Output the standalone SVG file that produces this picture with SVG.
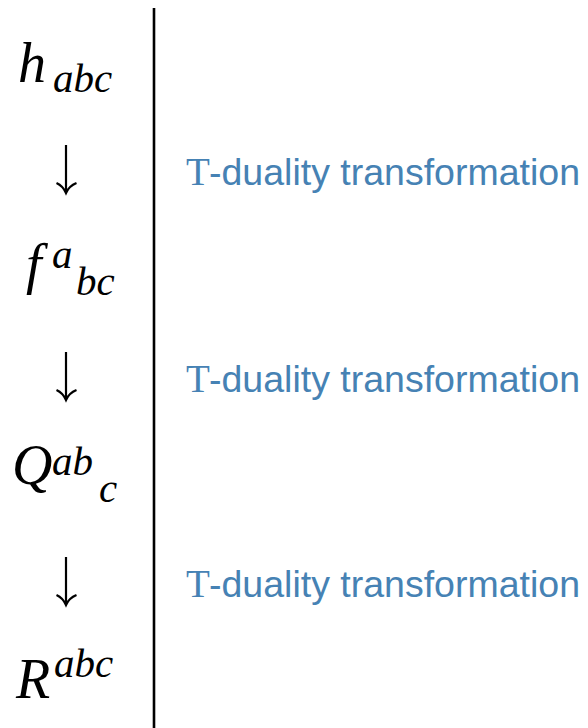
<svg xmlns="http://www.w3.org/2000/svg" width="588" height="728" viewBox="0 0 588 728">
<style>
.m{font-family:"Liberation Serif","Times New Roman",serif;font-style:italic;fill:#000}
.big{font-size:56px}
.sm{font-size:41px}
.lbl{font-size:37px;fill:#4682B4}
.ser{font-family:"Liberation Serif",serif;font-size:39px}
.san{font-family:"Liberation Sans",Arial,sans-serif}
.arr{fill:none;stroke:#000;stroke-width:2.2}
</style>
<rect width="588" height="728" fill="#fff"/>
<line x1="154" y1="8" x2="154" y2="728" stroke="#000" stroke-width="2.6"/>
<g id="node-h">
<text class="m big" x="18" y="82">h</text>
<text class="m sm" x="53" y="92">abc</text>
</g>
<g id="node-f">
<text class="m big" x="26" y="283">f</text>
<text class="m sm" x="52" y="268">a</text>
<text class="m sm" x="76" y="295">bc</text>
</g>
<g id="node-Q">
<text class="m big" x="12" y="484">Q</text>
<text class="m sm" x="52" y="475">ab</text>
<text class="m sm" x="99" y="502">c</text>
</g>
<g id="node-R">
<text class="m big" x="16" y="698">R</text>
<text class="m sm" x="54" y="677">abc</text>
</g>
<g id="connectors">
<path class="arr" d="M66,145 V192"/>
<path class="arr" d="M56.5,183 Q63,186 66,193 Q69,186 76.5,183"/>
<path class="arr" d="M66,352 V399"/>
<path class="arr" d="M56.5,390 Q63,393 66,400 Q69,393 76.5,390"/>
<path class="arr" d="M66,557 V604"/>
<path class="arr" d="M56.5,595 Q63,598 66,605 Q69,598 76.5,595"/>
</g>
<g id="labels">
<text class="lbl" y="185"><tspan class="ser" x="186">T</tspan><tspan class="san" x="209" textLength="371" lengthAdjust="spacingAndGlyphs">-duality transformation</tspan></text>
<text class="lbl" y="392"><tspan class="ser" x="186">T</tspan><tspan class="san" x="209" textLength="371" lengthAdjust="spacingAndGlyphs">-duality transformation</tspan></text>
<text class="lbl" y="597"><tspan class="ser" x="186">T</tspan><tspan class="san" x="209" textLength="371" lengthAdjust="spacingAndGlyphs">-duality transformation</tspan></text>
</g>
</svg>
